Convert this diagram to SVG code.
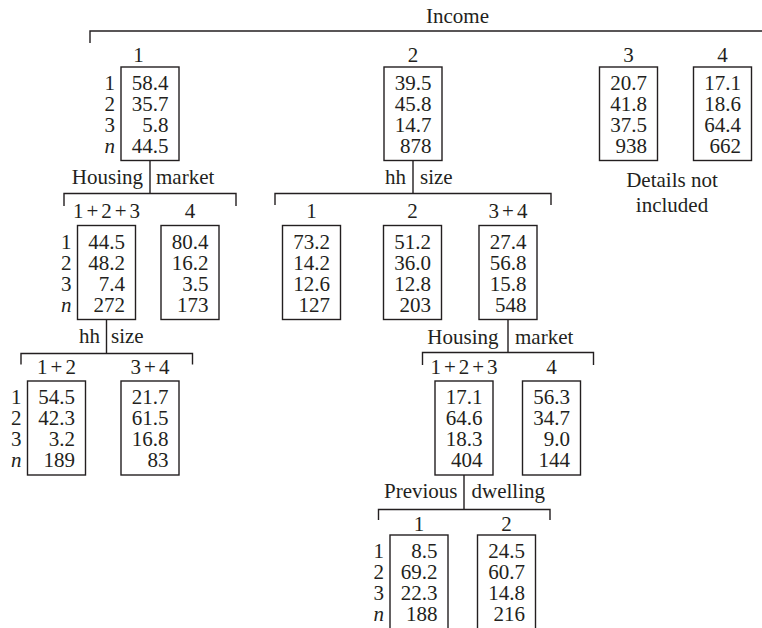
<svg xmlns="http://www.w3.org/2000/svg" width="762" height="628" viewBox="0 0 762 628">
<style>
text{font-family:"Liberation Serif","Times New Roman",serif;font-size:21px;fill:#231f20}
.v{text-anchor:end}
.r{text-anchor:end}
.i{font-style:italic}
.h{text-anchor:middle}
.s{letter-spacing:3px}
.e{text-anchor:end}
.box{fill:#fff;stroke:#231f20;stroke-width:1.4}
.ln{fill:none;stroke:#231f20;stroke-width:1.4}
</style>
<rect width="762" height="628" fill="#fff"/>
<g id="connectors">
<path class="ln" d="M90,43 V31 H762"/>
<path class="ln" d="M150,160 V193.5 M64,206 V193.5 H236 V206"/>
<path class="ln" d="M413,160 V193.5 M275,205 V193.5 H551 V205"/>
<path class="ln" d="M106.5,319.5 V353.5 M21,364.5 V353.5 H192.5 V364.5"/>
<path class="ln" d="M508,319.5 V352.5 M422.5,365 V352.5 H593.5 V365"/>
<path class="ln" d="M464,475 V509.5 M378.5,520 V509.5 H550 V520"/>
</g>
<g id="split-labels">
<text x="457.5" y="23" class="h">Income</text>
<text x="143" y="184" class="e">Housing</text><text x="156" y="184">market</text>
<text x="406" y="184" class="e">hh</text><text x="420" y="184">size</text>
<text x="100" y="343" class="e">hh</text><text x="111" y="343">size</text>
<text x="498.5" y="344" class="e">Housing</text><text x="515" y="344">market</text>
<text x="457.5" y="498" class="e">Previous</text><text x="471.5" y="498">dwelling</text>
</g>
<g id="inc1" transform="translate(121,67)">
<text x="17.5" y="-5.5" class="h">1</text>
<rect class="box" width="58" height="93.5"/>
<text x="-6" y="23" class="r">1</text><text x="-6" y="44" class="r">2</text><text x="-6" y="65" class="r">3</text><text x="-6" y="86" class="r i">n</text>
<text x="47.5" y="23" class="v">58.4</text><text x="47.5" y="44" class="v">35.7</text><text x="47.5" y="65" class="v">5.8</text><text x="47.5" y="86" class="v">44.5</text>
</g>
<g id="inc2" transform="translate(384,67)">
<text x="29" y="-5.5" class="h">2</text>
<rect class="box" width="58" height="93.5"/>
<text x="47.5" y="23" class="v">39.5</text><text x="47.5" y="44" class="v">45.8</text><text x="47.5" y="65" class="v">14.7</text><text x="47.5" y="86" class="v">878</text>
</g>
<g id="inc3" transform="translate(599.5,67)">
<text x="29" y="-5.5" class="h">3</text>
<rect class="box" width="58" height="93.5"/>
<text x="47.5" y="23" class="v">20.7</text><text x="47.5" y="44" class="v">41.8</text><text x="47.5" y="65" class="v">37.5</text><text x="47.5" y="86" class="v">938</text>
</g>
<g id="inc4" transform="translate(693.5,67)">
<text x="29" y="-5.5" class="h">4</text>
<rect class="box" width="58" height="93.5"/>
<text x="47.5" y="23" class="v">17.1</text><text x="47.5" y="44" class="v">18.6</text><text x="47.5" y="65" class="v">64.4</text><text x="47.5" y="86" class="v">662</text>
</g>
<g id="details">
<text x="672" y="187" class="h">Details not</text>
<text x="672" y="212" class="h">included</text>
</g>
<g id="hm123" transform="translate(77.5,225.5)">
<text x="30.5" y="-7.5" class="h s">1+2+3</text>
<rect class="box" width="58" height="94"/>
<text x="-6" y="23" class="r">1</text><text x="-6" y="44" class="r">2</text><text x="-6" y="65" class="r">3</text><text x="-6" y="86" class="r i">n</text>
<text x="47.5" y="23" class="v">44.5</text><text x="47.5" y="44" class="v">48.2</text><text x="47.5" y="65" class="v">7.4</text><text x="47.5" y="86" class="v">272</text>
</g>
<g id="hm4" transform="translate(161,225.5)">
<text x="29" y="-7.5" class="h">4</text>
<rect class="box" width="58" height="94"/>
<text x="47.5" y="23" class="v">80.4</text><text x="47.5" y="44" class="v">16.2</text><text x="47.5" y="65" class="v">3.5</text><text x="47.5" y="86" class="v">173</text>
</g>
<g id="hh1" transform="translate(282.5,225.5)">
<text x="29" y="-7.5" class="h">1</text>
<rect class="box" width="58" height="94"/>
<text x="47.5" y="23" class="v">73.2</text><text x="47.5" y="44" class="v">14.2</text><text x="47.5" y="65" class="v">12.6</text><text x="47.5" y="86" class="v">127</text>
</g>
<g id="hh2" transform="translate(383.5,225.5)">
<text x="29" y="-7.5" class="h">2</text>
<rect class="box" width="58" height="94"/>
<text x="47.5" y="23" class="v">51.2</text><text x="47.5" y="44" class="v">36.0</text><text x="47.5" y="65" class="v">12.8</text><text x="47.5" y="86" class="v">203</text>
</g>
<g id="hh34" transform="translate(479,225.5)">
<text x="30.5" y="-7.5" class="h s">3+4</text>
<rect class="box" width="58" height="94"/>
<text x="47.5" y="23" class="v">27.4</text><text x="47.5" y="44" class="v">56.8</text><text x="47.5" y="65" class="v">15.8</text><text x="47.5" y="86" class="v">548</text>
</g>
<g id="a12" transform="translate(27.5,381)">
<text x="30.5" y="-7" class="h s">1+2</text>
<rect class="box" width="58" height="94"/>
<text x="-6" y="23" class="r">1</text><text x="-6" y="44" class="r">2</text><text x="-6" y="65" class="r">3</text><text x="-6" y="86" class="r i">n</text>
<text x="47.5" y="23" class="v">54.5</text><text x="47.5" y="44" class="v">42.3</text><text x="47.5" y="65" class="v">3.2</text><text x="47.5" y="86" class="v">189</text>
</g>
<g id="a34" transform="translate(121,381)">
<text x="30.5" y="-7" class="h s">3+4</text>
<rect class="box" width="58" height="94"/>
<text x="47.5" y="23" class="v">21.7</text><text x="47.5" y="44" class="v">61.5</text><text x="47.5" y="65" class="v">16.8</text><text x="47.5" y="86" class="v">83</text>
</g>
<g id="b123" transform="translate(435,381)">
<text x="30.5" y="-7" class="h s">1+2+3</text>
<rect class="box" width="58" height="94"/>
<text x="47.5" y="23" class="v">17.1</text><text x="47.5" y="44" class="v">64.6</text><text x="47.5" y="65" class="v">18.3</text><text x="47.5" y="86" class="v">404</text>
</g>
<g id="b4" transform="translate(522.5,381)">
<text x="29" y="-7" class="h">4</text>
<rect class="box" width="58" height="94"/>
<text x="47.5" y="23" class="v">56.3</text><text x="47.5" y="44" class="v">34.7</text><text x="47.5" y="65" class="v">9.0</text><text x="47.5" y="86" class="v">144</text>
</g>
<g id="c1" transform="translate(390,535)">
<text x="29" y="-4" class="h">1</text>
<rect class="box" width="58" height="94"/>
<text x="-6" y="23" class="r">1</text><text x="-6" y="44" class="r">2</text><text x="-6" y="65" class="r">3</text><text x="-6" y="86" class="r i">n</text>
<text x="47.5" y="23" class="v">8.5</text><text x="47.5" y="44" class="v">69.2</text><text x="47.5" y="65" class="v">22.3</text><text x="47.5" y="86" class="v">188</text>
</g>
<g id="c2" transform="translate(477.5,535)">
<text x="29" y="-4" class="h">2</text>
<rect class="box" width="58" height="94"/>
<text x="47.5" y="23" class="v">24.5</text><text x="47.5" y="44" class="v">60.7</text><text x="47.5" y="65" class="v">14.8</text><text x="47.5" y="86" class="v">216</text>
</g>
</svg>
